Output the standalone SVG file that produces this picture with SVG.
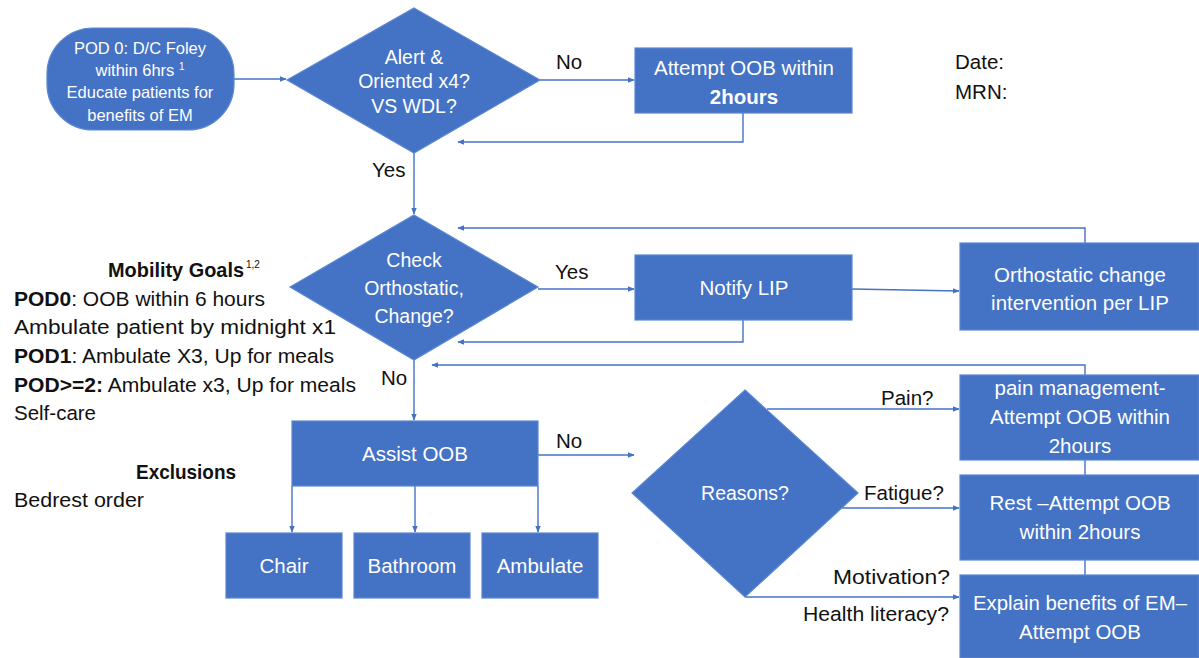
<svg xmlns="http://www.w3.org/2000/svg" width="1199" height="658" viewBox="0 0 1199 658">
<defs>
<style>
.n{fill:#4472C4;stroke:#5A86D3;stroke-width:1.2}
.t{fill:#fff;font-family:"Liberation Sans",Arial,sans-serif;font-size:20.5px;text-anchor:middle}
.ts{fill:#fff;font-family:"Liberation Sans",Arial,sans-serif;font-size:16.5px;text-anchor:middle}
.td{fill:#fff;font-family:"Liberation Sans",Arial,sans-serif;font-size:19.5px;text-anchor:middle}
.l{fill:#111;font-family:"Liberation Sans",Arial,sans-serif;font-size:20.5px}
.c{fill:none;stroke:#4472C4;stroke-width:1.4}
</style>
<marker id="a" viewBox="0 0 10 10" refX="9" refY="5" markerWidth="7" markerHeight="7" orient="auto" markerUnits="userSpaceOnUse">
<path d="M0,1 L10,5 L0,9 z" fill="#4472C4"/>
</marker>
</defs>
<rect width="1199" height="658" fill="#fff"/>
<g id="connectors">
<line class="c" x1="234" y1="79" x2="286" y2="79" marker-end="url(#a)"/>
<line class="c" x1="540" y1="80" x2="634" y2="80" marker-end="url(#a)"/>
<path class="c" d="M743,113 V142 H458" marker-end="url(#a)"/>
<line class="c" x1="414" y1="153" x2="414" y2="214" marker-end="url(#a)"/>
<line class="c" x1="538" y1="289" x2="634" y2="289" marker-end="url(#a)"/>
<line class="c" x1="852" y1="289" x2="959" y2="291" marker-end="url(#a)"/>
<path class="c" d="M1085,243 V228 H458" marker-end="url(#a)"/>
<path class="c" d="M743,320 V342 H458" marker-end="url(#a)"/>
<path class="c" d="M1085,575 V365 H432" marker-end="url(#a)"/>
<line class="c" x1="414" y1="360" x2="414" y2="420" marker-end="url(#a)"/>
<line class="c" x1="292" y1="486" x2="292" y2="532" marker-end="url(#a)"/>
<line class="c" x1="415" y1="486" x2="415" y2="532" marker-end="url(#a)"/>
<line class="c" x1="538" y1="486" x2="538" y2="532" marker-end="url(#a)"/>
<line class="c" x1="538" y1="455" x2="634" y2="455" marker-end="url(#a)"/>
<line class="c" x1="767" y1="409" x2="959" y2="409" marker-end="url(#a)"/>
<line class="c" x1="842" y1="508" x2="959" y2="508" marker-end="url(#a)"/>
<line class="c" x1="745" y1="597" x2="959" y2="597" marker-end="url(#a)"/>
</g>
<g id="start">
<rect class="n" x="47" y="28" width="187" height="102" rx="46"/>
<text class="ts" x="140" y="54">POD 0: D/C Foley</text>
<text class="ts" x="140" y="76">within 6hrs <tspan font-size="10" dy="-6">1</tspan></text>
<text class="ts" x="140" y="98">Educate patients for</text>
<text class="ts" x="140" y="121">benefits of EM</text>
</g>
<g id="alert">
<polygon class="n" points="414,8 540,80 414,153 287,80"/>
<text class="td" x="414" y="64">Alert &amp;</text>
<text class="td" x="414" y="88">Oriented x4?</text>
<text class="td" x="414" y="113">VS WDL?</text>
</g>
<g id="attempt">
<rect class="n" x="635" y="48" width="217" height="65"/>
<text class="t" x="744" y="75">Attempt OOB within</text>
<text class="t" x="744" y="104" font-weight="bold">2hours</text>
</g>
<g id="orthcheck">
<polygon class="n" points="414,215 538,287 414,360 290,287"/>
<text class="td" x="414" y="267" font-size="21">Check</text>
<text class="td" x="414" y="295" font-size="21">Orthostatic,</text>
<text class="td" x="414" y="323" font-size="21">Change?</text>
</g>
<g id="notify">
<rect class="n" x="635" y="255" width="217" height="65"/>
<text class="t" x="744" y="295">Notify LIP</text>
</g>
<g id="orthint">
<rect class="n" x="960" y="243" width="239" height="87"/>
<text class="t" x="1080" y="282">Orthostatic change</text>
<text class="t" x="1080" y="310">intervention per LIP</text>
</g>
<g id="assist">
<rect class="n" x="292" y="421" width="246" height="65"/>
<text class="t" x="415" y="461">Assist OOB</text>
</g>
<g id="chair">
<rect class="n" x="226" y="533" width="116" height="65"/>
<text class="t" x="284" y="573">Chair</text>
</g>
<g id="bathroom">
<rect class="n" x="354" y="533" width="116" height="65"/>
<text class="t" x="412" y="573">Bathroom</text>
</g>
<g id="ambulate">
<rect class="n" x="482" y="533" width="116" height="65"/>
<text class="t" x="540" y="573">Ambulate</text>
</g>
<g id="reasons">
<polygon class="n" points="745,390 858,493 745,597 632,493"/>
<text class="td" x="745" y="500" font-size="20">Reasons?</text>
</g>
<g id="pain">
<rect class="n" x="960" y="375" width="239" height="85"/>
<text class="t" x="1080" y="395">pain management-</text>
<text class="t" x="1080" y="424">Attempt OOB within</text>
<text class="t" x="1080" y="453">2hours</text>
</g>
<g id="rest">
<rect class="n" x="960" y="475" width="239" height="85"/>
<text class="t" x="1080" y="510">Rest –Attempt OOB</text>
<text class="t" x="1080" y="539">within 2hours</text>
</g>
<g id="explain">
<rect class="n" x="960" y="575" width="239" height="83"/>
<text class="t" x="1080" y="610" textLength="214" lengthAdjust="spacingAndGlyphs">Explain benefits of EM–</text>
<text class="t" x="1080" y="639">Attempt OOB</text>
</g>
<g id="labels">
<text class="l" x="556" y="69">No</text>
<text class="l" x="372" y="177">Yes</text>
<text class="l" x="555" y="279">Yes</text>
<text class="l" x="381" y="385">No</text>
<text class="l" x="556" y="448">No</text>
<text class="l" x="881" y="405">Pain?</text>
<text class="l" x="864" y="500">Fatigue?</text>
<text class="l" x="833" y="584" textLength="117" lengthAdjust="spacingAndGlyphs">Motivation?</text>
<text class="l" x="803" y="621" textLength="146" lengthAdjust="spacingAndGlyphs">Health literacy?</text>
<text class="l" x="955" y="69">Date:</text>
<text class="l" x="955" y="99">MRN:</text>
</g>
<g id="notes" font-family="Liberation Sans, Arial, sans-serif" font-size="20.5" fill="#111">
<text x="108" y="277" font-weight="bold" textLength="136" lengthAdjust="spacingAndGlyphs">Mobility Goals</text>
<text x="246" y="268" font-size="10">1,2</text>
<text x="14" y="306" textLength="251" lengthAdjust="spacingAndGlyphs"><tspan font-weight="bold">POD0</tspan>: OOB within 6 hours</text>
<text x="14" y="334" textLength="322" lengthAdjust="spacingAndGlyphs">Ambulate patient by midnight x1</text>
<text x="14" y="363" textLength="320" lengthAdjust="spacingAndGlyphs"><tspan font-weight="bold">POD1</tspan>: Ambulate X3, Up for meals</text>
<text x="14" y="392" textLength="342" lengthAdjust="spacingAndGlyphs"><tspan font-weight="bold">POD&gt;=2:</tspan> Ambulate x3, Up for meals</text>
<text x="14" y="420" textLength="82" lengthAdjust="spacingAndGlyphs">Self-care</text>
<text x="136" y="479" font-weight="bold" textLength="100" lengthAdjust="spacingAndGlyphs">Exclusions</text>
<text x="14" y="507" textLength="130" lengthAdjust="spacingAndGlyphs">Bedrest order</text>
</g>
</svg>
